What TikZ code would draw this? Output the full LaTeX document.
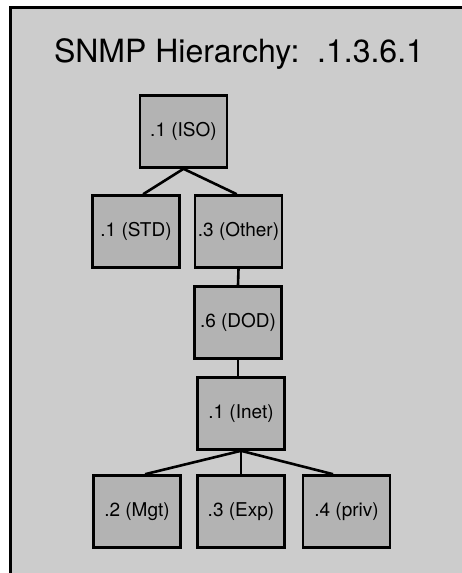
\documentclass[tikz,border=0pt]{standalone}
\usepackage{fontspec}
\setmainfont{TeX Gyre Heros}
\usetikzlibrary{calc}
\definecolor{bggray}{HTML}{CCCCCC}
\definecolor{boxgray}{HTML}{B3B3B3}
\begin{document}
\begin{tikzpicture}[x=1pt,y=-1pt,
  oidbox/.style={draw=black, fill=boxgray, line width=2.6pt, minimum width=87pt, minimum height=72pt, inner sep=0pt, font=\fontsize{19}{21}\selectfont},
  link/.style={draw=black, line width=2.6pt}]
\useasboundingbox (0,0) rectangle (462,573);
\fill[white] (0,0) rectangle (462,573);
\fill[bggray] (10.5,7) rectangle (462,573);
\draw[line width=3pt] (10.5,574) -- (10.5,7) -- (463,7);
\node[font=\fontsize{32}{36}\selectfont, anchor=base] (title) at (239,62) {SNMP Hierarchy:\ \ .1.3.6.1};
\node[oidbox] (iso) at (183.5,131.5) {.1 (ISO)};
\node[oidbox] (std) at (136,231.5) {.1 (STD)};
\node[oidbox] (other) at (238.5,231.5) {.3 (Other)};
\node[oidbox] (dod) at (238,322.5) {.6 (DOD)};
\node[oidbox] (inet) at (241,413.5) {.1 (Inet)};
\node[oidbox] (mgt) at (137,511.5) {.2 (Mgt)};
\node[oidbox] (exp) at (241,511.5) {.3 (Exp)};
\node[oidbox] (priv) at (346.5,511.5) {.4 (priv)};
\draw[link] (iso.south) -- ($(std.north west)!0.58!(std.north east)$);
\draw[link] (iso.south) -- ($(other.north west)!0.48!(other.north east)$);
\draw[link] (other.south) -- (dod.north);
\draw[link] (dod.south) -- (dod.south |- inet.north);
\draw[link] (inet.south) -- ($(mgt.north west)!0.59!(mgt.north east)$);
\draw[link] (inet.south) -- (exp.north);
\draw[link] (inet.south) -- ($(priv.north west)!0.35!(priv.north east)$);
\end{tikzpicture}
\end{document}
